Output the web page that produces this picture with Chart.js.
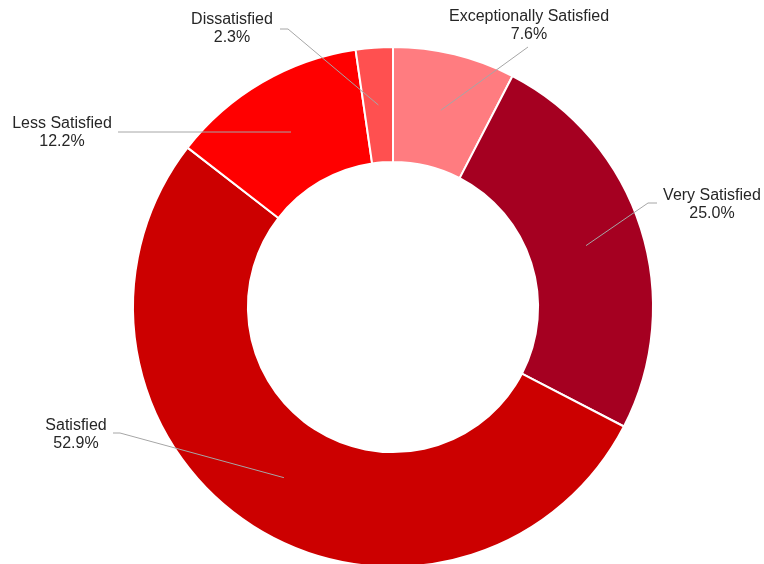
<!DOCTYPE html>
<html>
<head>
<meta charset="utf-8">
<title>Satisfaction</title>
<script src="https://cdn.jsdelivr.net/npm/chart.js@4"></script>
<style>
  html, body { margin: 0; padding: 0; background: #fff; overflow: hidden; }
  #wrap { position: relative; width: 764px; height: 564px; overflow: hidden; }
  #donut { position: absolute; left: 0; top: 0; }
</style>
</head>
<body>
<div id="wrap">
  <canvas id="donut" width="764" height="614"></canvas>
</div>
<script>
// survey answers, clockwise from 12 o'clock
const categorias = ['Exceptionally Satisfied', 'Very Satisfied', 'Satisfied', 'Less Satisfied', 'Dissatisfied'];
const porcentajes = [7.6, 25.0, 52.9, 12.2, 2.3];
const colores = ['#FF7C80', '#A50021', '#CC0000', '#FF0000', '#FF5050'];

// where each label sits, relative to the centre of the ring:
// text centre + first baseline, start of the leader, optional elbow
const etiquetas = [
  { tx: 136, ty: -286, lx: 135, ly: -260, ex: null, ey: null },
  { tx: 319, ty: -107, lx: 264, ly: -104, ex: 255, ey: -104 },
  { tx: -317, ty: 123, lx: -280, ly: 126, ex: -273, ey: 126 },
  { tx: -331, ty: -179, lx: -275, ly: -175, ex: null, ey: null },
  { tx: -161, ty: -283, lx: -113, ly: -278, ex: -105, ey: -278 }
];

const etiquetasPlugin = {
  id: 'etiquetas',
  afterDraw(chart) {
    const ctx = chart.ctx;
    const meta = chart.getDatasetMeta(0);
    if (!meta.data.length) return;
    const cx = meta.data[0].x;
    const cy = meta.data[0].y;
    ctx.save();
    meta.data.forEach((arc, i) => {
      const e = etiquetas[i];
      const p = arc.getCenterPoint();
      // leader line
      ctx.strokeStyle = '#A6A6A6';
      ctx.lineWidth = 1;
      ctx.beginPath();
      ctx.moveTo(cx + e.lx, cy + e.ly);
      if (e.ex !== null) ctx.lineTo(cx + e.ex, cy + e.ey);
      ctx.lineTo(p.x, p.y);
      ctx.stroke();
      // text
      ctx.fillStyle = '#262626';
      ctx.font = '16px "Liberation Sans", Arial, sans-serif';
      ctx.textAlign = 'center';
      ctx.textBaseline = 'alphabetic';
      ctx.fillText(categorias[i], cx + e.tx, cy + e.ty);
      ctx.fillText(porcentajes[i].toFixed(1) + '%', cx + e.tx, cy + e.ty + 18);
    });
    ctx.restore();
  }
};

new Chart(document.getElementById('donut'), {
  type: 'doughnut',
  data: {
    labels: categorias,
    datasets: [{
      data: porcentajes,
      backgroundColor: colores,
      borderColor: '#FFFFFF',
      borderWidth: 2
    }]
  },
  options: {
    responsive: false,
    animation: false,
    cutout: '55.8%',
    layout: { padding: { top: 46, bottom: 46, left: 22, right: 0 } },
    plugins: {
      legend: { display: false },
      tooltip: { enabled: false }
    }
  },
  plugins: [etiquetasPlugin]
});
</script>
</body>
</html>
